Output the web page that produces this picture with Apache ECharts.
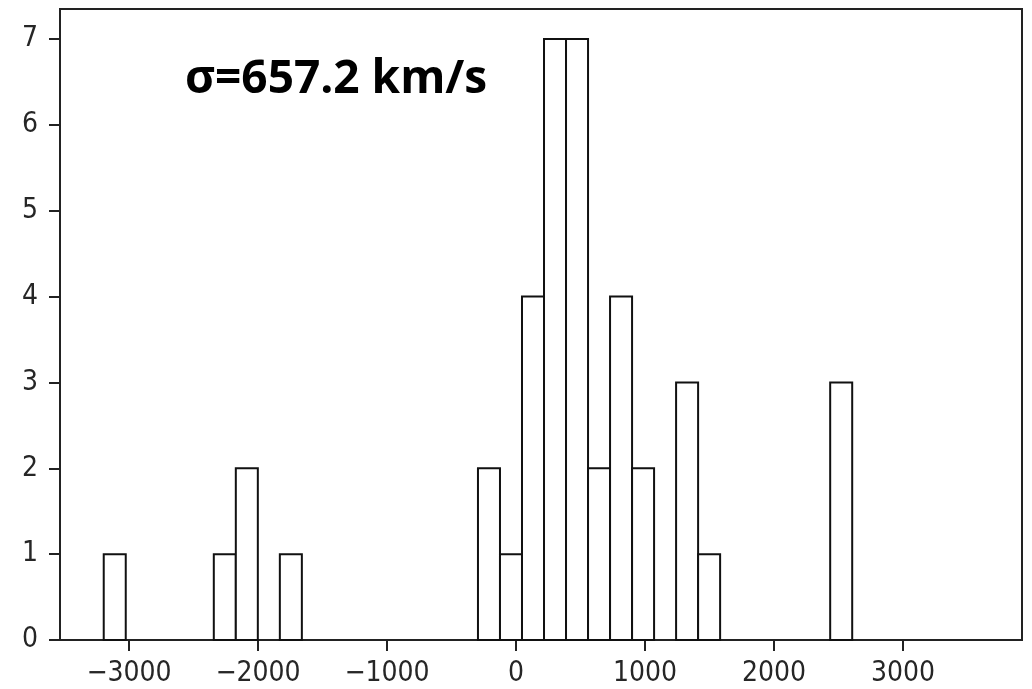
<!DOCTYPE html>
<html>
<head>
<meta charset="utf-8">
<script src="https://cdn.jsdelivr.net/npm/echarts@6/dist/echarts.min.js"></script>
<style>
  html, body { margin: 0; padding: 0; background: #fff; }
  #chart { width: 1032px; height: 689px; }
</style>
</head>
<body>
<div id="chart"></div>
<script>
// histogram bins (left edge of each non-empty bin, km/s) and counts
var binLeft = [-3080, -2330, -2180, -1880, -530, -380, -230, -80, 70, 220, 370, 520, 820, 970, 1870];
var counts = [1, 1, 2, 1, 2, 1, 4, 7, 7, 2, 4, 2, 3, 1, 3];
var binWidth = 150;
var xMin = -3378, xMax = 3177;
var tickMin = -4000, tickMax = 4000, tickStep = 1000;
var label = 'σ=657.2 km/s';

var bars = [];
for (var i = 0; i < binLeft.length; i++) {
    bars.push([binLeft[i], binLeft[i] + binWidth, counts[i]]);
}

// plot box
var W = 1032, gLeft = 60, gRight = 10, gTop = 9, gBottom = 49;
// a second (invisible) grid with the same px-per-km/s scale but whose
// extent is a whole number of 1000s, so its ticks land on -3000..3000
var pxPerUnit = (W - gLeft - gRight) / (xMax - xMin);
var tLeft = gLeft + (tickMin - xMin) * pxPerUnit;
var tRight = W - (gLeft + (tickMax - xMin) * pxPerUnit);

var myChart = echarts.init(document.getElementById('chart'));
var tickFont = {
    fontFamily: 'DejaVu Sans Condensed, DejaVu Sans',
    fontSize: 28,
    color: '#262626'
};

var option = {
    animation: false,
    grid: [
        {
            left: gLeft,
            right: gRight,
            top: gTop,
            bottom: gBottom,
            show: true,
            borderColor: '#222',
            borderWidth: 2
        },
        {
            left: tLeft,
            right: tRight,
            top: gTop,
            bottom: gBottom,
            show: false
        }
    ],
    xAxis: [
        {
            type: 'value',
            gridIndex: 0,
            min: xMin,
            max: xMax,
            splitLine: { show: false },
            axisLine: { show: true, onZero: false, lineStyle: { color: '#222', width: 2 } },
            axisTick: { show: false },
            axisLabel: { show: false }
        },
        {
            type: 'value',
            gridIndex: 1,
            min: tickMin,
            max: tickMax,
            interval: tickStep,
            splitLine: { show: false },
            axisLine: { show: false, onZero: false },
            axisTick: { show: true, length: 11, lineStyle: { color: '#222', width: 2 } },
            axisLabel: Object.assign({
                margin: 20,
                showMinLabel: false,
                showMaxLabel: false,
                formatter: function (v) { return String(v).replace('-', '\u2212'); }
            }, tickFont)
        }
    ],
    yAxis: [
        {
            type: 'value',
            gridIndex: 0,
            min: 0,
            max: 7.35,
            interval: 1,
            splitLine: { show: false },
            axisLine: { show: true, onZero: false, lineStyle: { color: '#222', width: 2 } },
            axisTick: { show: true, length: 11, lineStyle: { color: '#222', width: 2 } },
            axisLabel: Object.assign({
                margin: 22,
                showMaxLabel: false
            }, tickFont)
        },
        {
            type: 'value',
            gridIndex: 1,
            min: 0,
            max: 1,
            show: false
        }
    ],
    series: [
        {
            type: 'custom',
            xAxisIndex: 0,
            yAxisIndex: 0,
            data: bars,
            encode: { x: [0, 1], y: 2 },
            renderItem: function (params, api) {
                var p0 = api.coord([api.value(0), api.value(2)]);
                var p1 = api.coord([api.value(1), 0]);
                return {
                    type: 'rect',
                    shape: { x: p0[0], y: p0[1], width: p1[0] - p0[0], height: p1[1] - p0[1] },
                    style: { fill: '#fff', stroke: '#111', lineWidth: 2 }
                };
            }
        }
    ],
    graphic: [
        {
            type: 'text',
            left: 185,
            top: 57,
            style: {
                text: label,
                fontFamily: 'Open Sans',
                fontWeight: 'bold',
                fontSize: 46,
                fill: '#000'
            }
        }
    ]
};
myChart.setOption(option);
</script>
</body>
</html>
